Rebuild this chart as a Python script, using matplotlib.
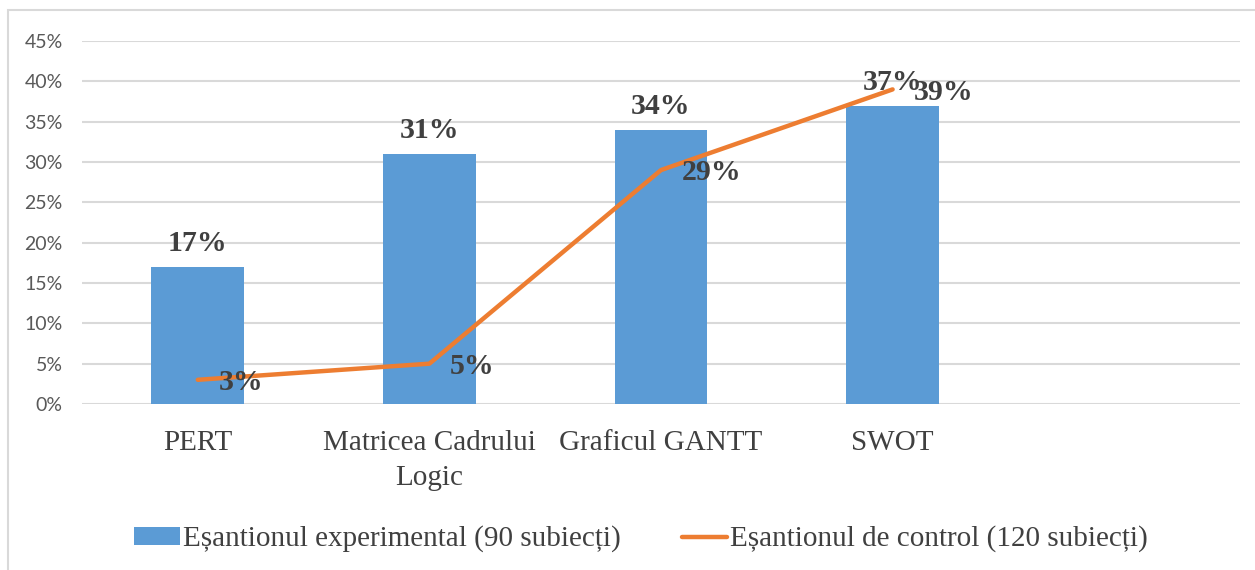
import numpy as np
import matplotlib.pyplot as plt
from matplotlib.patches import Rectangle

categories = ["PERT", "Matricea Cadrului\nLogic", "Graficul GANTT", "SWOT"]
experimental = [17, 31, 34, 37]
control = [3, 5, 29, 39]
y_ticks = [0, 5, 10, 15, 20, 25, 30, 35, 40, 45]
label_exp = "Eșantionul experimental (90 subiecți)"
label_ctl = "Eșantionul de control (120 subiecți)"

BLUE = "#5B9BD5"
ORANGE = "#ED7D31"
GRID = "#D9D9D9"
serif = ["Liberation Serif", "DejaVu Serif"]

fig = plt.figure(figsize=(12.55, 5.7), dpi=100)
ax = fig.add_axes([82 / 1255, 166 / 570, 1158 / 1255, 363 / 570])

# outer chart frame (left and top edges visible)
fig.patches.append(Rectangle((8 / 1255, -0.1), 1.2, (570 - 10) / 570 + 0.1,
                             transform=fig.transFigure, fill=False,
                             edgecolor=GRID, linewidth=1.5))

x = np.arange(len(categories))
bars = ax.bar(x, experimental, width=0.4, color=BLUE, label=label_exp, zorder=2)
line, = ax.plot(x, control, color=ORANGE, linewidth=3.2, solid_capstyle="round",
                label=label_ctl, zorder=3)

for xi, v in zip(x, experimental):
    ax.annotate(f"{v}%", (xi, v), xytext=(0, 7), textcoords="offset points",
                ha="center", va="bottom", fontsize=21.5, fontweight="bold",
                family=serif, color="#404040", zorder=4)
for xi, v in zip(x, control):
    ax.annotate(f"{v}%", (xi, v), xytext=(15, -2), textcoords="offset points",
                ha="left", va="center", fontsize=21.5, fontweight="bold",
                family=serif, color="#404040", zorder=4)

ax.set_xlim(-0.5, 4.5)
ax.set_ylim(0, 45)
ax.set_yticks(y_ticks)
ax.set_yticklabels([f"{t}%" for t in y_ticks], fontsize=14, color="#595959",
                   family=["Lato", "DejaVu Sans"])
ax.set_xticks(x)
ax.set_xticklabels(categories, fontsize=21, color="#404040", family=serif,
                   linespacing=1.45)
ax.tick_params(axis="both", length=0)
ax.tick_params(axis="x", pad=19)
ax.tick_params(axis="y", pad=14)
ax.grid(axis="y", color=GRID, linewidth=1.5, zorder=0)
ax.set_axisbelow(True)
for s in ax.spines.values():
    s.set_visible(False)

fig.legend(handles=[bars, line], labels=[label_exp, label_ctl],
           loc="center", bbox_to_anchor=(641 / 1255, 31 / 570), ncol=2,
           frameon=False, prop={"family": serif, "size": 21},
           handlelength=1.55, handleheight=0.55, handletextpad=0.1,
           columnspacing=2.1, labelcolor="#404040")

fig.savefig("out.png", dpi=100)
